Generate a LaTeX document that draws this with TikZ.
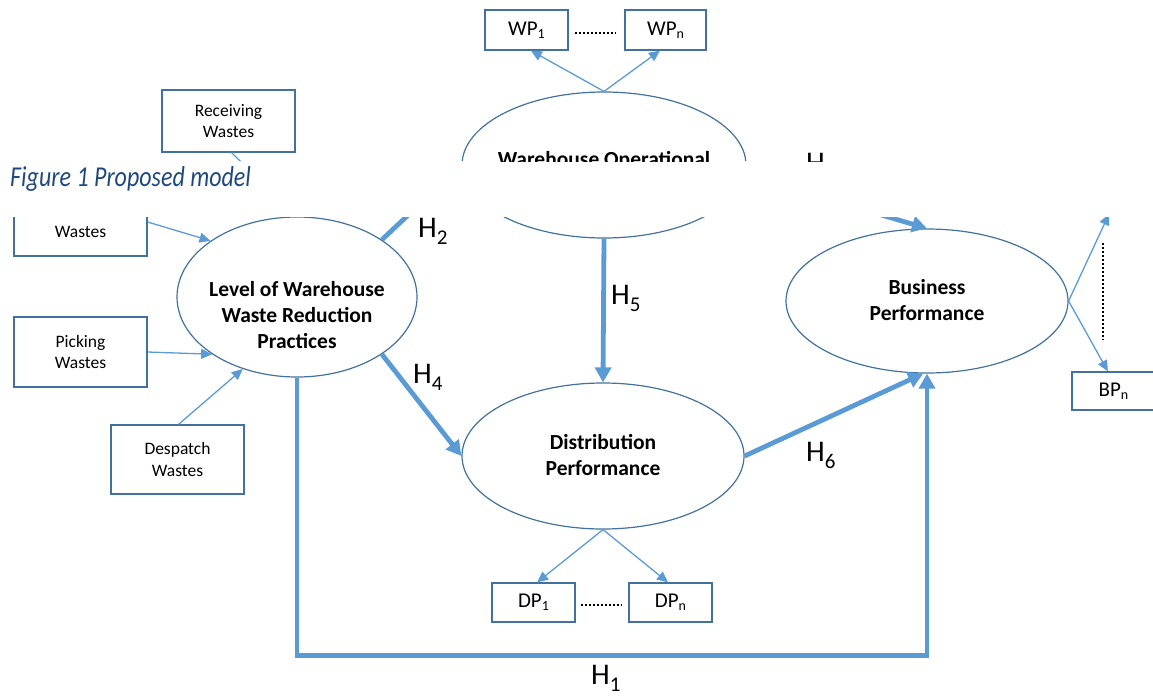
\documentclass[tikz,border=0pt]{standalone}
\usepackage{fontspec}
\setmainfont{Carlito}
\usetikzlibrary{shapes.geometric,arrows.meta}
\definecolor{lineblue}{HTML}{5B9BD5}
\definecolor{edgeblue}{HTML}{41719C}
\definecolor{capblue}{HTML}{1F497D}
\newcommand{\hsub}[1]{H\raisebox{-7pt}{\fontsize{21}{21}\selectfont #1}}
\newcommand{\isub}[1]{\raisebox{-3pt}{\fontsize{14}{14}\selectfont #1}}
\begin{document}
\begin{tikzpicture}[x=1pt,y=-1pt,
 lat/.style={ellipse,draw=edgeblue,line width=1.2pt,inner sep=0pt},
 box/.style={rectangle,draw=edgeblue,line width=1.2pt,fill=white,inner sep=0pt,align=center,font=\fontsize{17.5}{21.5}\selectfont},
 ind/.style={box,minimum width=83pt,minimum height=40pt,font=\fontsize{21}{24}\selectfont},
 wbox/.style={box,minimum width=133pt,minimum height=70pt},
 btxt/.style={align=center,inner sep=0pt,font=\fontsize{17.5}{21.5}\selectfont},
 ltxt/.style={align=center,inner sep=0pt,font=\fontsize{21.5}{26}\selectfont\bfseries},
 thinarr/.style={draw=lineblue,line width=1.3pt,-{Triangle[length=11pt,width=10pt]}},
 thickarr/.style={draw=lineblue,line width=4.8pt,-{Triangle[length=15pt,width=16pt]}},
 hlab/.style={anchor=base west,inner sep=0pt,font=\fontsize{30}{30}\selectfont},
 dots/.style={line width=2.4pt,dash pattern=on 2pt off 2pt}
]
\useasboundingbox (0,0) rectangle (1153,696);
\begin{scope}
\clip (0,0) rectangle (1153,161) (0,217) rectangle (1153,696);
% latent variables
\node[lat,minimum width=284pt,minimum height=146pt] (WOE) at (604,165) {};
\node[ltxt,anchor=base] (WOEt) at (604,166) {Warehouse Operational};
\node[lat,minimum width=240pt,minimum height=160pt] (LW) at (297,297) {};
\node[ltxt] (LWt) at (297,315) {Level of Warehouse\\Waste Reduction\\Practices};
\node[lat,minimum width=282pt,minimum height=146pt] (DP) at (603,456) {};
\node[ltxt] (DPt) at (603,455) {Distribution\\Performance};
\node[lat,minimum width=282pt,minimum height=144pt] (BP) at (927,301) {};
\node[ltxt] (BPt) at (927,300) {Business\\Performance};
% indicator boxes
\node[ind] (WP1) at (526.5,30) {WP\isub{1}};
\node[ind,minimum width=81pt] (WPn) at (665.5,30) {WP\isub{n}};
\node[ind,minimum height=39pt] (DP1) at (533.5,602.5) {DP\isub{1}};
\node[ind,minimum height=39pt] (DPn) at (670.5,602.5) {DP\isub{n}};
\node[ind,minimum height=38pt] (BPn) at (1113.5,391) {BP\isub{n}};
\node[wbox,minimum height=62pt] (REC) at (228.5,121) {Receiving\\Wastes};
\node[wbox] (STO) at (80.5,221) {};
\node[btxt] (STOt) at (80.5,232) {Wastes};
\node[wbox] (PICK) at (80.5,352) {Picking\\Wastes};
\node[wbox,minimum height=69pt] (DESP) at (177.5,459.5) {Despatch\\Wastes};
\coordinate (bp1) at (1109,214);
\coordinate (bpd1) at (1103,243);
\coordinate (bpd2) at (1103,340);
\coordinate (h1) at (612,655.5);
% thin arrows
\draw[thinarr] ([xshift=3pt]REC.south) -- (LW.north);
\draw[thinarr] ([yshift=-1pt]STO.east) -- (LW.147.6);
\draw[thinarr] (PICK.east) -- (LW.214);
\draw[thinarr] ([xshift=1pt]DESP.north) -- (LW.233);
\draw[thinarr] (WOE.north) -- (WP1.-78);
\draw[thinarr] (WOE.north) -- (WPn.-105);
\draw[thinarr] (DP.south) -- (DP1.80);
\draw[thinarr] (DP.south) -- (DPn.97);
\draw[thinarr] (BP.east) -- (bp1);
\draw[thinarr] (BP.east) -- (BPn.106);
% dotted
\draw[dots] ([shift={(6,3)}]WP1.east) -- ([shift={(-9,3)}]WPn.west);
\draw[dots] ([shift={(5,2.5)}]DP1.east) -- ([shift={(-7,2.5)}]DPn.west);
\draw[dots] (bpd1) -- (bpd2);
% thick arrows
\draw[thickarr] (LW.34) -- (WOE.west);
\draw[thickarr] (WOE.-4) -- (BP.north);
\draw[thickarr] (LW.-34) -- (DP.west);
\draw[thickarr] (WOE.south) -- (DP.north);
\draw[thickarr] (DP.east) -- (BP.267);
\draw[thickarr] (LW.south) |- (h1) -| (BP.south);
% hypothesis labels
\node[hlab] (H1) at (591,684) {\hsub{1}};
\node[hlab] (H2) at (418,237) {\hsub{2}};
\node[hlab] (H3) at (806,172) {\hsub{3}};
\node[hlab] (H4) at (413,383) {\hsub{4}};
\node[hlab] (H5) at (611,304) {\hsub{5}};
\node[hlab] (H6) at (806,461) {\hsub{6}};
\end{scope}
\node[anchor=base west,inner sep=0pt,text=capblue] (cap) at (10,186)
  {\scalebox{1}[1.2]{\fontsize{24}{28}\selectfont\itshape Figure 1 Proposed model}};
\end{tikzpicture}
\end{document}
